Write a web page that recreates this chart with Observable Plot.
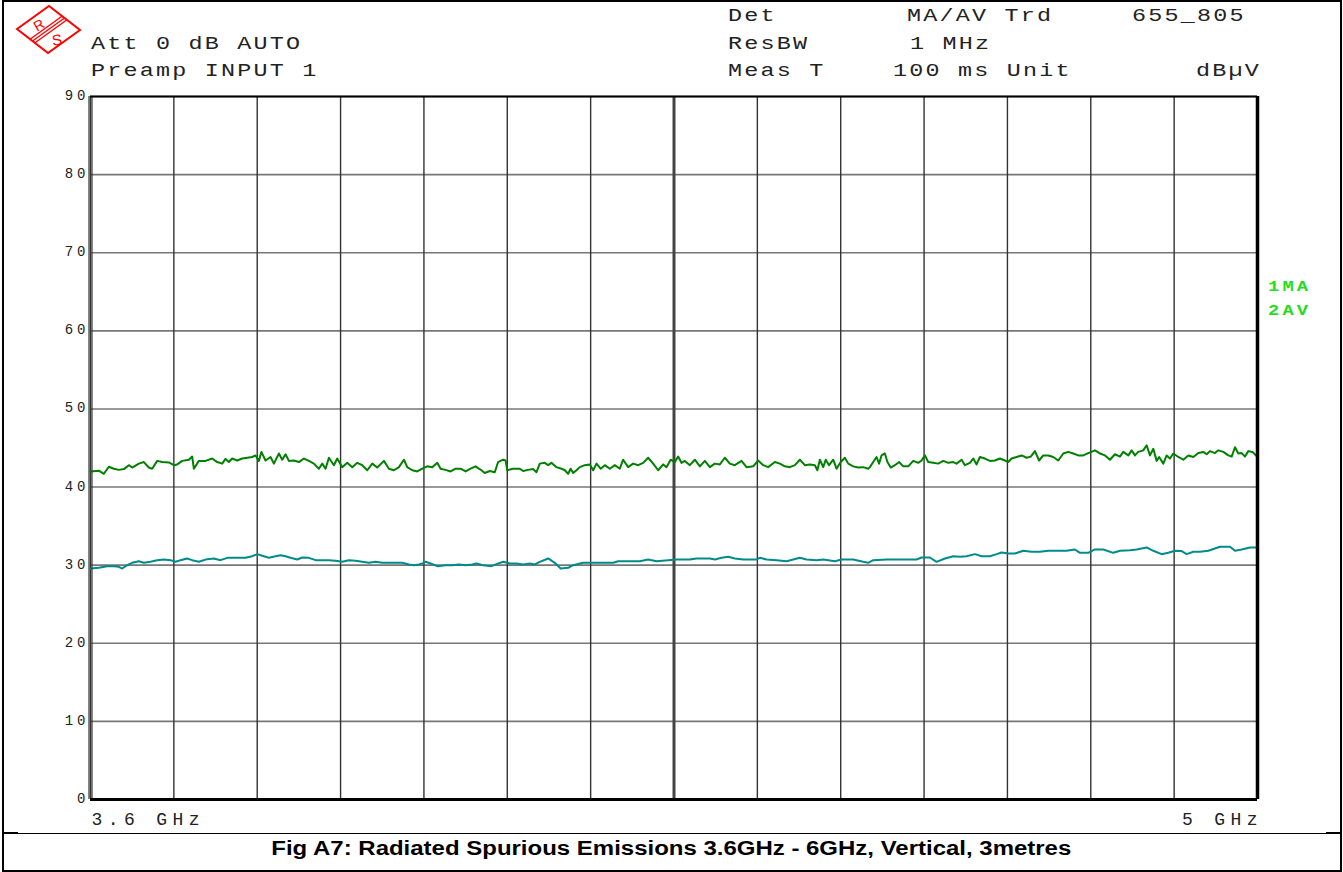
<!DOCTYPE html>
<html>
<head>
<meta charset="utf-8">
<script src="https://cdn.jsdelivr.net/npm/d3@7"></script>
<script src="https://cdn.jsdelivr.net/npm/@observablehq/plot@0.6"></script>
<style>
  html, body { margin: 0; padding: 0; background: #fff; }
  #page { position: relative; width: 1343px; height: 872px; overflow: hidden; background: #fff; }
  #chart { position: absolute; left: 0; top: 0; }
  .hdr { position: absolute; font-family: "Liberation Mono", monospace; font-size: 18px; line-height: 18px;
         letter-spacing: 1.7px; color: #222; white-space: pre; transform: scaleX(1.3); transform-origin: left center; }
  .trace-id { position: absolute; font-family: "Liberation Mono", monospace; font-weight: bold; font-size: 15px;
              line-height: 15px; letter-spacing: 2.5px; color: #1ee01e; white-space: pre; transform: scaleX(1.25); transform-origin: left center; }
  #caption { position: absolute; left: 0; top: 838px; width: 1343px; text-align: center;
             font-family: "Liberation Sans", Arial, sans-serif; font-weight: bold; font-size: 19.5px; line-height: 20px; color: #000; }
  #caption span { display: inline-block; transform-origin: center; }
  #frame { position: absolute; left: 2px; top: 0; width: 1340px; height: 872px; border: 2px solid #000; box-sizing: border-box; }
  .bar { position: absolute; background: #000; }
  #chart g[aria-label="y-axis tick label"] text { letter-spacing: 4px; }
  #chart g[aria-label="x-axis tick label"] text { letter-spacing: 5.4px; }
  #logo { position: absolute; left: 0; top: 0; }
</style>
</head>
<body>
<div id="page">
  <div id="chart"></div>

  <div class="hdr" style="left:728px; top:6.7px">Det</div>
  <div class="hdr" style="left:907px; top:6.7px">MA/AV Trd</div>
  <div class="hdr" style="left:1132px; top:6.7px">655_805</div>

  <div class="hdr" style="left:91px; top:34.5px">Att 0 dB AUTO</div>
  <div class="hdr" style="left:728px; top:34.5px">ResBW</div>
  <div class="hdr" style="left:910px; top:34.5px">1 MHz</div>

  <div class="hdr" style="left:91px; top:62.2px">Preamp INPUT 1</div>
  <div class="hdr" style="left:728px; top:62.2px">Meas T</div>
  <div class="hdr" style="left:893px; top:62.2px">100 ms Unit</div>
  <div class="hdr" style="left:1196px; top:62.2px">dBµV</div>

  <div class="trace-id" style="left:1268px; top:280.2px">1MA</div>
  <div class="trace-id" style="left:1268px; top:303.5px">2AV</div>

  <svg id="logo" width="90" height="60" viewBox="0 0 90 60">
    <polygon points="17,29 49,6 80,30 48,53" fill="#fff" stroke="#f00" stroke-width="2"/>
    <line x1="30" y1="39.2" x2="62" y2="16.2" stroke="#f00" stroke-width="1.4"/>
    <line x1="32.5" y1="41" x2="64.5" y2="18" stroke="#f00" stroke-width="1.4"/>
    <line x1="35" y1="42.8" x2="67" y2="19.8" stroke="#f00" stroke-width="1.4"/>
    <text x="39" y="30" fill="#f00" font-family="Liberation Sans, Arial, sans-serif" font-size="14"
          transform="rotate(-30 39 25)" text-anchor="middle">R</text>
    <text x="57" y="45" fill="#f00" font-family="Liberation Sans, Arial, sans-serif" font-size="15"
          transform="rotate(-8 57 40)" text-anchor="middle">S</text>
  </svg>

  <div class="bar" style="left:2px; top:832.5px; width:1339px; height:1.2px"></div>
  <div class="bar" style="left:2px; top:832px; width:16px; height:2px"></div>
  <div class="bar" style="left:1326px; top:832px; width:15px; height:2px"></div>

  <div id="caption"><span>Fig A7: Radiated Spurious Emissions 3.6GHz - 6GHz, Vertical, 3metres</span></div>
  <div id="frame"></div>
</div>

<script>
// Sweep span (MHz) and level range (dBµV)
const startFreq = 3600;
const stopFreq = 5000;
const centreFreq = 4300;
const refLevel = 90;
const bottomLevel = 0;

// Grid divisions
const levelTicks = [0, 10, 20, 30, 40, 50, 60, 70, 80, 90];
const freqTicks = [3600, 3700, 3800, 3900, 4000, 4100, 4200, 4300, 4400, 4500, 4600, 4700, 4800, 4900, 5000];

// Frequency-axis labels
const startLabel = "3.6 GHz";
const stopLabel = "5 GHz";

// Trace 1: max-hold peak (MHz, dBµV)
const maTrace = [
  [3600,42.0],[3610,42.1],[3616,41.7],[3622,42.6],[3628,42.35],[3634,42.2],[3640,42.3],[3646,42.8],[3650,42.5],[3658,43.0],
  [3664,43.2],[3670,42.5],[3674,42.35],[3680,43.35],[3686,43.2],[3694,43.15],[3700,42.8],[3704,42.9],[3710,43.35],[3718,43.5],
  [3722,43.9],[3724,42.35],[3730,43.35],[3738,43.35],[3746,43.65],[3752,43.2],[3758,43.0],[3762,43.6],[3766,43.2],[3770,43.65],
  [3776,43.4],[3782,43.65],[3788,43.75],[3794,43.85],[3798,44.05],[3802,43.35],[3805,44.5],[3810,43.4],[3816,43.85],[3820,43.0],
  [3826,44.3],[3830,43.5],[3834,44.2],[3838,43.35],[3844,43.4],[3850,43.2],[3856,43.65],[3862,43.35],[3868,43.0],[3874,42.35],
  [3878,43.0],[3882,42.35],[3886,43.75],[3892,42.8],[3896,43.65],[3902,42.55],[3908,43.1],[3914,42.55],[3920,43.1],[3926,42.8],
  [3932,42.15],[3938,43.0],[3944,42.5],[3952,43.35],[3958,42.35],[3964,42.15],[3970,42.55],[3976,43.5],[3980,42.55],[3986,42.15],
  [3992,42.0],[3998,42.35],[4004,42.65],[4010,42.55],[4016,43.1],[4020,42.35],[4026,42.2],[4032,42.0],[4038,42.35],[4044,42.35],
  [4050,42.0],[4056,42.35],[4062,42.65],[4066,42.35],[4069,42.15],[4073,41.8],[4079,42.05],[4085,41.9],[4089,43.2],[4095,43.5],
  [4098,43.4],[4100,42.15],[4107,42.35],[4115,42.35],[4119,42.05],[4125,42.2],[4131,42.3],[4135,41.9],[4139,43.0],[4145,43.1],
  [4149,42.8],[4153,43.1],[4159,42.55],[4165,42.35],[4169,42.15],[4173,41.7],[4176,42.35],[4179,41.8],[4183,42.15],[4187,42.55],
  [4193,42.8],[4199,42.9],[4203,42.15],[4207,43.0],[4212,42.35],[4217,42.8],[4223,42.35],[4229,42.8],[4235,42.35],[4239,43.5],
  [4245,42.55],[4251,43.0],[4257,42.8],[4263,43.1],[4269,43.75],[4275,43.0],[4281,42.15],[4287,42.9],[4291,42.55],[4296,43.5],
  [4301,43.2],[4305,43.9],[4309,43.1],[4313,43.35],[4319,42.8],[4325,43.5],[4331,42.65],[4337,43.35],[4343,42.55],[4349,43.0],
  [4355,42.9],[4361,43.75],[4367,43.0],[4373,42.8],[4381,43.35],[4387,42.55],[4395,42.65],[4401,43.4],[4407,42.8],[4413,42.55],
  [4421,43.2],[4427,43.0],[4433,42.65],[4439,42.55],[4445,42.8],[4451,43.5],[4457,42.8],[4463,42.9],[4469,42.8],[4472,42.15],
  [4475,43.5],[4479,42.55],[4482,43.5],[4486,42.8],[4491,43.5],[4495,42.35],[4500,43.2],[4505,43.75],[4509,43.0],[4515,42.65],
  [4521,42.5],[4527,42.55],[4533,42.35],[4535,42.55],[4539,43.2],[4543,43.85],[4546,43.0],[4549,44.05],[4553,44.3],[4556,43.2],
  [4560,42.5],[4565,42.8],[4570,43.2],[4575,42.65],[4581,42.65],[4587,43.35],[4593,43.1],[4597,43.4],[4601,44.05],[4605,43.2],
  [4611,43.1],[4617,43.0],[4623,43.35],[4629,43.1],[4635,43.2],[4639,43.0],[4645,43.5],[4649,42.8],[4655,43.1],[4659,43.65],
  [4663,42.9],[4667,43.85],[4673,43.65],[4679,43.35],[4685,43.4],[4691,43.65],[4697,43.4],[4701,43.2],[4705,43.65],[4711,43.85],
  [4717,44.05],[4723,43.75],[4728,43.9],[4733,44.6],[4738,43.4],[4743,44.05],[4749,44.05],[4755,43.85],[4761,43.4],[4767,44.3],
  [4773,44.5],[4779,44.3],[4785,44.05],[4791,44.05],[4797,44.35],[4805,44.7],[4811,44.3],[4817,44.05],[4823,43.5],[4829,44.2],
  [4835,43.9],[4839,44.5],[4845,44.05],[4849,44.7],[4853,44.05],[4857,44.5],[4863,44.7],[4867,45.35],[4871,44.05],[4875,44.9],
  [4879,43.35],[4882,43.85],[4887,43.0],[4891,44.05],[4895,43.65],[4899,44.3],[4905,43.85],[4911,43.5],[4917,44.05],[4923,43.85],
  [4929,44.35],[4935,44.5],[4939,44.2],[4943,44.6],[4949,44.35],[4953,44.7],[4959,44.5],[4965,44.05],[4969,43.9],[4973,45.1],
  [4977,44.3],[4981,44.35],[4985,43.9],[4989,44.6],[4994,44.5],[5000,43.85]
];

// Trace 2: average detector (MHz, dBµV)
const avTrace = [
  [3600,29.57],[3610,29.66],[3620,29.87],[3628,29.87],[3634,29.79],[3638,29.57],[3644,30.0],[3650,30.3],[3658,30.51],[3664,30.3],
  [3672,30.43],[3680,30.64],[3688,30.73],[3696,30.64],[3702,30.43],[3708,30.64],[3716,30.86],[3722,30.64],[3730,30.43],[3740,30.77],
  [3748,30.86],[3756,30.64],[3764,30.94],[3774,30.94],[3786,30.94],[3794,31.15],[3800,31.41],[3806,31.2],[3814,30.94],[3822,31.15],
  [3828,31.28],[3834,31.15],[3840,30.94],[3848,30.73],[3854,30.98],[3862,30.94],[3870,30.64],[3878,30.64],[3886,30.64],[3894,30.56],
  [3902,30.43],[3910,30.64],[3918,30.56],[3926,30.43],[3934,30.3],[3942,30.43],[3950,30.3],[3958,30.3],[3966,30.3],[3974,30.3],
  [3982,30.09],[3988,30.0],[3994,30.09],[3998,30.21],[4002,30.43],[4008,30.21],[4016,29.87],[4026,30.0],[4034,30.0],[4042,30.09],
  [4050,30.0],[4058,30.09],[4063,30.21],[4071,30.0],[4081,29.87],[4087,30.13],[4095,30.43],[4103,30.21],[4111,30.21],[4119,30.09],
  [4127,30.21],[4133,30.09],[4139,30.43],[4149,30.86],[4157,30.3],[4164,29.57],[4173,29.66],[4179,30.0],[4191,30.3],[4201,30.3],
  [4215,30.3],[4227,30.3],[4233,30.51],[4247,30.51],[4259,30.51],[4269,30.73],[4279,30.51],[4293,30.64],[4303,30.73],[4319,30.73],
  [4327,30.86],[4343,30.86],[4349,30.73],[4357,30.94],[4365,31.07],[4373,30.86],[4383,30.73],[4399,30.73],[4403,30.94],[4411,30.73],
  [4423,30.64],[4435,30.51],[4443,30.73],[4451,30.94],[4459,30.73],[4471,30.64],[4479,30.73],[4493,30.51],[4501,30.73],[4515,30.73],
  [4527,30.43],[4533,30.3],[4539,30.64],[4555,30.73],[4571,30.73],[4591,30.73],[4597,30.98],[4607,30.98],[4615,30.43],[4625,30.86],
  [4635,31.15],[4643,31.07],[4651,31.15],[4661,31.41],[4669,31.15],[4679,31.15],[4687,31.41],[4693,31.63],[4701,31.5],[4709,31.5],
  [4719,31.84],[4729,31.71],[4739,31.71],[4749,31.84],[4759,31.84],[4771,31.84],[4781,32.01],[4787,31.58],[4797,31.58],[4805,32.01],
  [4815,32.01],[4827,31.58],[4835,31.84],[4847,31.92],[4855,32.01],[4867,32.27],[4875,31.84],[4885,31.41],[4893,31.58],[4901,31.84],
  [4909,31.8],[4915,31.41],[4923,31.71],[4931,31.71],[4941,31.84],[4955,32.35],[4967,32.35],[4973,31.84],[4981,32.01],[4991,32.27],
  [5000,32.27]
];

const toRows = (pairs) => pairs.map(([freq, level]) => ({freq, level}));

const chart = Plot.plot({
  width: 1343,
  height: 832,
  marginLeft: 90,
  marginRight: 86,
  marginTop: 96,
  marginBottom: 33,
  x: {domain: [startFreq, stopFreq], axis: null},
  y: {domain: [bottomLevel, refLevel], axis: null},
  style: {fontFamily: "'Liberation Mono', monospace", background: "transparent", color: "#222", overflow: "visible"},
  marks: [
    // graticule
    Plot.gridY(levelTicks, {stroke: "#777", strokeOpacity: 1, strokeWidth: 1.6}),
    Plot.gridX(freqTicks, {stroke: "#333", strokeOpacity: 1, strokeWidth: 1.4}),
    Plot.ruleX([centreFreq], {stroke: "#444", strokeWidth: 3}),

    // traces
    Plot.line(toRows(avTrace), {x: "freq", y: "level", stroke: "#008b8b", strokeWidth: 2}),
    Plot.line(toRows(maTrace), {x: "freq", y: "level", stroke: "#008000", strokeWidth: 2}),

    // diagram border
    Plot.ruleX([startFreq], {stroke: "#333", strokeWidth: 1.2, dx: -1.5}),
    Plot.ruleX([startFreq], {stroke: "#333", strokeWidth: 1.2, dx: 1.5}),
    Plot.ruleX([stopFreq], {stroke: "#000", strokeWidth: 3.5}),
    Plot.ruleY([bottomLevel], {stroke: "#000", strokeWidth: 3}),
    Plot.ruleY([refLevel], {stroke: "#000", strokeWidth: 2}),

    // level labels
    Plot.axisY({ticks: levelTicks, label: null, tickSize: 0, tickPadding: 1, fontSize: 14, dy: -1, fill: "#222"}),

    // span labels
    Plot.axisX({ticks: [startFreq], label: null, tickFormat: () => startLabel, textAnchor: "start", tickSize: 0, tickPadding: 13, fontSize: 18, dx: 1, fill: "#222"}),
    Plot.axisX({ticks: [stopFreq], label: null, tickFormat: () => stopLabel, textAnchor: "end", tickSize: 0, tickPadding: 13, fontSize: 18, dx: 5.4, fill: "#222"})
  ]
});

document.getElementById("chart").appendChild(chart);

// widen the caption to its printed extent
const cap = document.querySelector("#caption span");
const capWidth = cap.getBoundingClientRect().width;
cap.style.transform = `scaleX(${800 / capWidth})`;
</script>
</body>
</html>
